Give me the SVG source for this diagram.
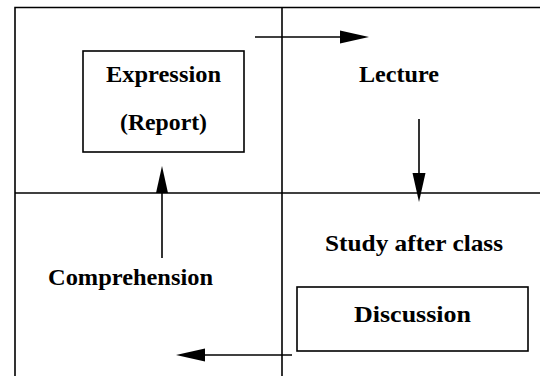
<svg xmlns="http://www.w3.org/2000/svg" width="540" height="376" viewBox="0 0 540 376">
<style>
.ln{stroke:#000;stroke-width:1.6;fill:none}
.bx{stroke:#000;stroke-width:1.6;fill:#fff}
.t{font-family:"Liberation Serif","Times New Roman",Times,serif;font-weight:bold;font-size:24px;fill:#000;text-anchor:middle}
.ah{fill:#000;stroke:none}
</style>
<g id="frame">
<path class="ln" d="M15,376 V7.5 H541"/>
<path class="ln" d="M282,7 V376"/>
<path class="ln" d="M15,193 H541"/>
</g>
<g id="connectors">
<line class="ln" x1="255" y1="37" x2="342" y2="37"/>
<polygon class="ah" points="340,30.5 369,37 340,43.5"/>
<line class="ln" x1="419" y1="119" x2="419" y2="176"/>
<polygon class="ah" points="412.5,173 425.5,173 419,202"/>
<line class="ln" x1="162" y1="258" x2="162" y2="190"/>
<polygon class="ah" points="156,193 168,193 162,166"/>
<line class="ln" x1="292" y1="355" x2="203" y2="355"/>
<polygon class="ah" points="205,348.5 205,361.5 176,355"/>
</g>
<g id="expression">
<rect class="bx" x="83" y="51" width="161" height="101"/>
<text class="t" x="163.5" y="82" textLength="115" lengthAdjust="spacingAndGlyphs">Expression</text>
<text class="t" x="163.5" y="130" textLength="87" lengthAdjust="spacingAndGlyphs">(Report)</text>
</g>
<g id="lecture">
<text class="t" x="399" y="82" textLength="80" lengthAdjust="spacingAndGlyphs">Lecture</text>
</g>
<g id="study">
<text class="t" x="414" y="251" textLength="178" lengthAdjust="spacingAndGlyphs">Study after class</text>
</g>
<g id="discussion">
<rect class="bx" x="297" y="287" width="231" height="64"/>
<text class="t" x="412.5" y="322" textLength="117" lengthAdjust="spacingAndGlyphs">Discussion</text>
</g>
<g id="comprehension">
<text class="t" x="130.5" y="285" textLength="165" lengthAdjust="spacingAndGlyphs">Comprehension</text>
</g>
</svg>
